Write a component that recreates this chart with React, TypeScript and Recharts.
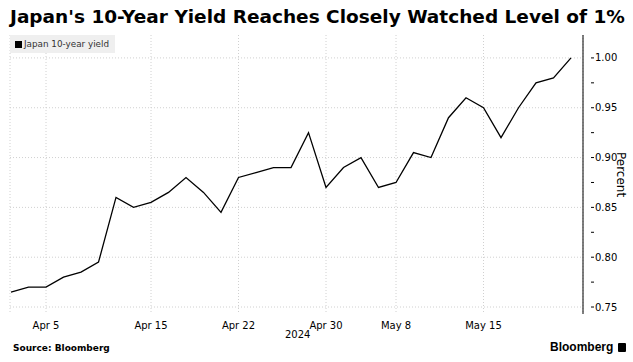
import React from "react";
import { LineChart, Line, XAxis, YAxis, CartesianGrid } from "recharts";

// Trading days, Apr 3 – May 22, 2024
const dates = [
  "Apr 3", "Apr 4", "Apr 5", "Apr 8", "Apr 9", "Apr 10", "Apr 11", "Apr 12",
  "Apr 15", "Apr 16", "Apr 17", "Apr 18", "Apr 19", "Apr 22", "Apr 23", "Apr 24",
  "Apr 25", "Apr 26", "Apr 30", "May 1", "May 2", "May 7", "May 8", "May 9",
  "May 10", "May 13", "May 14", "May 15", "May 16", "May 17", "May 20", "May 21", "May 22",
];

const yields = [
  0.765, 0.77, 0.77, 0.78, 0.785, 0.795, 0.86, 0.85,
  0.855, 0.865, 0.88, 0.865, 0.845, 0.88, 0.885, 0.89,
  0.89, 0.925, 0.87, 0.89, 0.9, 0.87, 0.875, 0.905,
  0.9, 0.94, 0.96, 0.95, 0.92, 0.95, 0.975, 0.98, 1.0,
];

const xTicks = ["Apr 5", "Apr 15", "Apr 22", "Apr 30", "May 8", "May 15"];
const yMajor = [0.75, 0.8, 0.85, 0.9, 0.95, 1.0];
const yTicks = [0.75, 0.775, 0.8, 0.825, 0.85, 0.875, 0.9, 0.925, 0.95, 0.975, 1.0];

const data = dates.map((d, i) => ({ date: d, value: yields[i] }));

const FONT = "'DejaVu Sans', sans-serif";

function YTick(props: any) {
  const { x, y, payload } = props;
  const v = payload.value as number;
  const major = yMajor.some((m) => Math.abs(m - v) < 1e-6);
  return (
    <g>
      <line x1={x} x2={x + 3} y1={y} y2={y} stroke="#000" strokeWidth={1} />
      {major && (
        <text x={x + 4} y={y} dy={3.5} fontSize={10} fontFamily={FONT} fill="#000">
          {v.toFixed(2)}
        </text>
      )}
    </g>
  );
}

export default function App() {
  return (
    <div style={{ position: "absolute", left: 0, top: 0, width: 633, height: 362, background: "#fff", fontFamily: FONT }}>
      <div style={{ position: "absolute", left: 10, top: 6, fontSize: 18.5, fontWeight: 700, color: "#000", whiteSpace: "nowrap" }}>
        Japan's 10-Year Yield Reaches Closely Watched Level of 1%
      </div>
      <LineChart width={633} height={362} data={data} margin={{ top: 35, right: 0, bottom: 28, left: 10 }}>
        <CartesianGrid stroke="#d0d0d0" strokeDasharray="1 2" horizontalValues={yMajor} />
        <XAxis
          dataKey="date"
          ticks={xTicks}
          interval={0}
          axisLine={false}
          tickLine={false}
          padding={{ left: 1, right: 12 }}
          height={20}
          tick={{ fontSize: 10, fontFamily: FONT, fill: "#000" }}
          tickMargin={2}
        />
        <YAxis
          orientation="right"
          width={50}
          domain={[0.743, 1.023]}
          ticks={yTicks}
          interval={0}
          tickLine={false}
          axisLine={{ stroke: "#000", strokeWidth: 1 }}
          tick={<YTick />}
        />
        <Line type="linear" dataKey="value" stroke="#000" strokeWidth={1.3} dot={false} isAnimationActive={false} />
      </LineChart>
      <div style={{ position: "absolute", left: 614, top: 152, width: 14, fontSize: 12, lineHeight: "14px", color: "#000", writingMode: "vertical-rl", whiteSpace: "nowrap" }}>
        Percent
      </div>
      <div style={{ position: "absolute", left: 10, top: 35, width: 105, height: 18, background: "#efefef", display: "flex", alignItems: "center", fontSize: 8.8, color: "#333", whiteSpace: "nowrap" }}>
        <span style={{ display: "inline-block", width: 7, height: 7, background: "#000", marginLeft: 5, marginRight: 2 }} />
        Japan 10-year yield
      </div>
      <div style={{ position: "absolute", left: 285, top: 329, fontSize: 10, color: "#000" }}>2024</div>
      <div style={{ position: "absolute", left: 13, top: 343, fontSize: 9, fontWeight: 700, color: "#000", whiteSpace: "nowrap" }}>Source: Bloomberg</div>
      <div style={{ position: "absolute", left: 550, top: 340, fontSize: 12, fontWeight: 700, fontFamily: "'Liberation Sans', Arial, sans-serif", color: "#000", display: "flex", alignItems: "center", whiteSpace: "nowrap" }}>
        Bloomberg
        <span style={{ display: "inline-block", width: 8, height: 9, background: "#000", borderRadius: 1, marginLeft: 5 }} />
      </div>
    </div>
  );
}
